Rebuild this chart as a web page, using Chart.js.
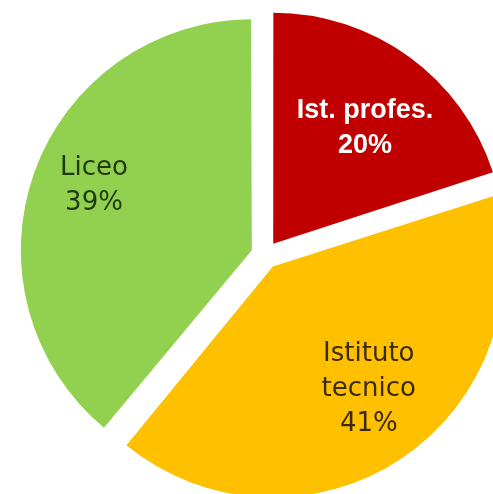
<!DOCTYPE html>
<html>
<head>
<meta charset="utf-8">
<script src="https://cdn.jsdelivr.net/npm/chart.js@4/dist/chart.umd.min.js"></script>
<style>
    html, body { margin: 0; padding: 0; background: #fff; overflow: hidden; }
    #wrap { position: absolute; left: 0; top: 0; width: 530px; height: 510px; }
</style>
</head>
<body>
<div id="wrap"><canvas id="pieChart"></canvas></div>
<script>
// categories (clockwise from 12 o'clock) and their shares in percent
const categories = [["Ist. profes."], ["Istituto", "tecnico"], ["Liceo"]];
const shares = [20, 41, 39];
const sliceColors = ["#C00000", "#FFC000", "#92D050"];

// label style per slice
const labelColors = ["#ffffff", "#3a2a06", "#1f3a0e"];
const labelFonts = [
    "bold 27px 'Liberation Sans', Arial, sans-serif",
    "26px 'DejaVu Sans', sans-serif",
    "26px 'DejaVu Sans', sans-serif"
];
const labelRadius = [0.64, 0.673, 0.738];
const labelTurn = [2.4, -3.9, 2.4]; // degrees away from the mid angle

const pieRadius = 231;
const explode = 56; // chart.js moves each arc by offset / 4

// chart.js also grows an exploded arc by a bit, undo that so all slices keep the same radius
const evenRadius = {
    id: "evenRadius",
    afterDatasetsUpdate(chart) {
        chart.getDatasetMeta(0).data.forEach(function (arc) {
            const fix = 1 - Math.sin(Math.min(Math.PI, arc.circumference || 0));
            arc.outerRadius = pieRadius - (explode / 4) * fix;
        });
    }
};

const sliceLabels = {
    id: "sliceLabels",
    afterDatasetsDraw(chart) {
        const ctx = chart.ctx;
        const meta = chart.getDatasetMeta(0);
        const values = chart.data.datasets[0].data;
        ctx.save();
        ctx.textAlign = "center";
        ctx.textBaseline = "middle";
        meta.data.forEach(function (arc, i) {
            const p = arc.getProps(["x", "y", "startAngle", "endAngle"], true);
            const mid = (p.startAngle + p.endAngle) / 2;
            const shift = explode / 4;
            const ox = p.x + Math.cos(mid) * shift;
            const oy = p.y + Math.sin(mid) * shift;
            const a = mid + labelTurn[i] * Math.PI / 180;
            const r = pieRadius * labelRadius[i];
            const cx = ox + Math.cos(a) * r;
            const cy = oy + Math.sin(a) * r;
            const lines = chart.data.labels[i].concat([values[i] + "%"]);
            const lh = 35;
            ctx.fillStyle = labelColors[i];
            ctx.font = labelFonts[i];
            lines.forEach(function (txt, k) {
                ctx.fillText(txt, cx, cy + (k - (lines.length - 1) / 2) * lh);
            });
        });
        ctx.restore();
    }
};

document.addEventListener("DOMContentLoaded", function () {
    const ctxPie = document.getElementById("pieChart").getContext("2d");
    new Chart(ctxPie, {
        type: "pie",
        data: {
            labels: categories,
            datasets: [{
                data: shares,
                backgroundColor: sliceColors,
                borderWidth: 0,
                offset: explode
            }]
        },
        options: {
            responsive: true,
            maintainAspectRatio: false,
            animation: false,
            radius: pieRadius,
            layout: { padding: 0 },
            plugins: {
                legend: { display: false },
                tooltip: { enabled: false }
            }
        },
        plugins: [evenRadius, sliceLabels]
    });
});
</script>
</body>
</html>
